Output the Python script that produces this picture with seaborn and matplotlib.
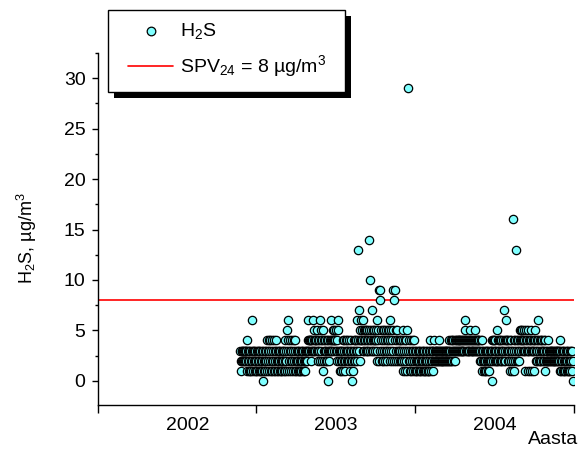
import matplotlib
matplotlib.use("Agg")
import matplotlib.pyplot as plt
import matplotlib.dates as mdates
from matplotlib.patches import Rectangle
from matplotlib.lines import Line2D
from matplotlib.ticker import FixedLocator, NullFormatter, FixedFormatter, MultipleLocator
import pandas as pd
import seaborn as sns

# Daily H2S concentrations (µg/m3)
start_date = "2002-11-25"

h2s_2002 = [
    3, 2, 1, 3, 2, 3,                                                     # Nov
    3, 2, 3, 2, 3, 2, 3, 3, 2, 4, 1, 3, 2, 1, 3, 2, 1, 3, 2, 1, 3, 6, 2, 1, 3, 2, 3, 1, 2, 3, 1,  # Dec
]

h2s_2003 = [
    2, 3, 1, 2, 3, 1, 2, 3, 1, 3, 2, 1, 3, 2, 1, 3, 0, 2, 1, 3, 2, 1, 3, 2, 1, 4, 3, 2, 4, 1, 3,  # Jan
    4, 2, 1, 3, 2, 4, 1, 3, 2, 1, 4, 3, 2, 1, 3, 4, 2, 1, 3, 2, 1, 3, 2, 1, 3, 2, 1, 3,  # Feb
    2, 1, 3, 2, 1, 3, 2, 4, 1, 3, 2, 5, 1, 6, 3, 4, 2, 1, 3, 4, 2, 1, 3, 4, 2, 1, 3, 4, 2, 1, 3,  # Mar
    4, 2, 1, 3, 2, 1, 3, 2, 1, 3, 2, 1, 3, 2, 1, 3, 2, 1, 3, 2, 1, 3, 2, 1, 3, 2, 3, 2, 6, 4,  # Apr
    3, 4, 3, 4, 4, 3, 2, 4, 3, 4, 6, 3, 5, 4, 3, 4, 3, 4, 4, 5, 3, 4, 3, 2, 4, 3, 6, 2, 5, 4, 3,  # May
    4, 2, 5, 1, 3, 4, 2, 3, 4, 2, 3, 4, 2, 0, 3, 4, 2, 3, 3, 4, 6, 3, 4, 3, 4, 5, 4, 3, 5, 4,  # Jun
    4, 4, 5, 3, 2, 4, 3, 6, 5, 2, 3, 3, 1, 2, 3, 1, 2, 3, 4, 1, 2, 3, 4, 1, 2, 3, 4, 2, 3, 4, 2,  # Jul
    3, 2, 4, 3, 1, 2, 4, 3, 2, 0, 3, 1, 4, 2, 3, 4, 2, 3, 4, 2, 3, 6, 4, 13, 7, 3, 2, 4, 5, 6, 4,  # Aug
    5, 4, 6, 3, 5, 4, 3, 5, 4, 3, 5, 4, 3, 5, 4, 3, 14, 5, 10, 4, 3, 5, 4, 7, 3, 5, 4, 3, 5, 4,  # Sep
    4, 3, 5, 4, 2, 6, 3, 5, 4, 9, 2, 8, 3, 9, 5, 4, 2, 3, 5, 4, 2, 3, 5, 4, 2, 3, 5, 4, 2, 3, 5,  # Oct
    4, 5, 3, 2, 6, 4, 5, 3, 2, 4, 5, 9, 3, 8, 2, 9, 4, 5, 3, 2, 5, 4, 3, 2, 4, 3, 2, 4, 3, 2,  # Nov
    4, 3, 2, 4, 5, 1, 3, 2, 4, 1, 3, 2, 4, 5, 1, 3, 29, 2, 4, 1, 3, 2, 4, 1, 3, 2, 4, 1, 3, 2, 4,  # Dec
]

h2s_2004 = [
    1, 3, 2, 1, 3, 2, 1, 3, 2, 1, 3, 2, 1, 3, 2, 1, 3, 2, 1, 3, 2, 1, 3, 2, 1, 3, 2, 1, 3, 2, 1,  # Jan
    1, 3, 2, 1, 4, 3, 2, 1, 3, 2, 3, 1, 3, 2, 4, 3, 2, 3, 2, 3, 2, 3, 2, 3, 2, 4, 3, 2, 3,  # Feb
    2, 3, 2, 3, 2, 3, 2, 3, 2, 3, 2, 3, 2, 3, 2, 3, 2, 3, 2, 3, 4, 2, 3, 4, 2, 3, 4, 2, 3, 4, 2,  # Mar
    3, 4, 2, 3, 4, 3, 4, 3, 4, 3, 4, 3, 4, 3, 4, 3, 4, 3, 4, 3, 4, 3, 4, 3, 6, 5, 4, 3, 4, 3,  # Apr
    4, 3, 4, 3, 4, 3, 4, 5, 3, 4, 3, 4, 3, 4, 3, 4, 3, 4, 5, 3, 4, 3, 4, 3, 4, 3, 4, 3, 4, 2, 3,  # May
    4, 2, 3, 1, 4, 2, 3, 1, 2, 3, 1, 2, 3, 1, 2, 3, 1, 2, 3, 1, 2, 3, 2, 3, 2, 4, 3, 0, 2, 4,  # Jun
    3, 4, 2, 3, 4, 2, 3, 5, 2, 4, 3, 2, 4, 3, 2, 4, 3, 2, 4, 3, 2, 4, 3, 7, 2, 4, 3, 2, 6, 4, 3,  # Jul
    4, 3, 2, 4, 3, 2, 4, 1, 3, 2, 4, 1, 3, 2, 16, 4, 1, 3, 2, 4, 3, 13, 2, 4, 3, 2, 4, 3, 2, 4, 5,  # Aug
    4, 5, 3, 4, 5, 3, 4, 3, 5, 4, 3, 1, 4, 5, 3, 4, 1, 3, 5, 4, 3, 1, 4, 3, 5, 4, 3, 1, 4, 3,  # Sep
    4, 3, 1, 4, 5, 2, 3, 4, 2, 3, 4, 6, 2, 3, 4, 2, 3, 4, 2, 3, 4, 2, 3, 4, 2, 3, 4, 1, 2, 3, 2,  # Oct
    3, 2, 4, 2, 3, 2, 3, 2, 3, 2, 3, 2, 3, 2, 3, 2, 3, 2, 3, 2, 3, 2, 3, 2, 3, 2, 3, 2, 3, 4,  # Nov
    1, 3, 2, 1, 3, 2, 1, 3, 2, 1, 3, 2, 1, 3, 2, 1, 3, 2, 1, 3, 2, 1, 3, 2, 1, 3, 2, 1, 3, 2, 0,  # Dec
]

limit_value = 8  # SPV24 daily limit, µg/m3

year_ticks = ["2002-01-01", "2003-01-01", "2004-01-01", "2005-01-01"]
year_labels = ["2002", "2003", "2004"]
year_label_dates = ["2002-07-26", "2003-07-04", "2004-07-03"]

values = h2s_2002 + h2s_2003 + h2s_2004
df = pd.DataFrame({
    "date": pd.date_range(start_date, periods=len(values), freq="D"),
    "h2s": values,
})

sns.set_theme(style="ticks")
plt.rcParams["font.family"] = ["Liberation Sans", "DejaVu Sans"]
plt.rcParams["mathtext.fontset"] = "custom"
plt.rcParams["mathtext.rm"] = "Liberation Sans"
plt.rcParams["mathtext.default"] = "regular"

W, H = 582, 450
FS = 14
fig = plt.figure(figsize=(W / 100, H / 100), dpi=100)
fig.patch.set_facecolor("white")
ax = fig.add_axes([98 / W, 45 / H, 475.5 / W, 352 / H])
ax.set_facecolor("white")

point_face = "#80FFFF"

ax.axhline(limit_value, color="red", lw=1.2, zorder=2)
sns.scatterplot(data=df, x="date", y="h2s", ax=ax, s=36, color=point_face,
                edgecolor="black", linewidth=0.9, zorder=3, legend=False)

ax.set_xlim(pd.Timestamp(year_ticks[0]), pd.Timestamp(year_ticks[-1]))
ax.set_ylim(-2.4, 32.5)

for side in ("top", "right"):
    ax.spines[side].set_visible(False)
for side in ("left", "bottom"):
    ax.spines[side].set_color("black")
    ax.spines[side].set_linewidth(1.0)

# y axis: major every 5, minor every 2.5
ax.yaxis.set_major_locator(MultipleLocator(5))
ax.yaxis.set_minor_locator(MultipleLocator(2.5))
ax.tick_params(axis="y", which="major", direction="out", length=4.5, width=1,
               color="black", labelsize=FS, labelcolor="black", pad=4.5)
ax.tick_params(axis="y", which="minor", direction="out", length=2.3, width=1,
               color="black")

# x axis: ticks at year boundaries, labels centred within the years
ax.xaxis.set_major_locator(FixedLocator(mdates.date2num(pd.to_datetime(year_ticks))))
ax.xaxis.set_major_formatter(NullFormatter())
ax.xaxis.set_minor_locator(FixedLocator(mdates.date2num(pd.to_datetime(year_label_dates))))
ax.xaxis.set_minor_formatter(FixedFormatter(year_labels))
ax.tick_params(axis="x", which="major", direction="out", length=5.5, width=1,
               color="black")
ax.tick_params(axis="x", which="minor", length=0, labelsize=FS,
               labelcolor="black", pad=8.5)

ax.set_xlabel("")
ax.set_ylabel("")
fig.text(27 / W, 1 - 238 / H, "H$_2$S, µg/m$^3$", rotation=90,
         ha="center", va="center", fontsize=13, color="black")
fig.text(578 / W, 1 - 440 / H, "Aasta", ha="right", va="center",
         fontsize=FS, color="black")

# Legend box with solid drop shadow
bx, by, bw, bh = 108, 10, 237, 82
fig.add_artist(Rectangle(((bx + 6) / W, 1 - (by + bh + 6) / H), bw / W, bh / H,
                         transform=fig.transFigure, facecolor="black",
                         edgecolor="none", zorder=5))
fig.add_artist(Rectangle((bx / W, 1 - (by + bh) / H), bw / W, bh / H,
                         transform=fig.transFigure, facecolor="white",
                         edgecolor="black", linewidth=1.0, zorder=6))
fig.add_artist(Line2D([151 / W], [1 - 31 / H], marker="o", markersize=6.2,
                      markerfacecolor=point_face, markeredgecolor="black",
                      markeredgewidth=0.9, linestyle="none",
                      transform=fig.transFigure, zorder=7))
fig.text(180 / W, 1 - 31 / H, "H$_2$S", ha="left", va="center",
         fontsize=FS, color="black", zorder=7)
fig.add_artist(Line2D([128 / W, 173 / W], [1 - 66 / H, 1 - 66 / H],
                      color="red", lw=1.2, transform=fig.transFigure, zorder=7))
fig.text(180 / W, 1 - 66 / H, f"SPV$_{{24}}$ = {limit_value} µg/m$^3$",
         ha="left", va="center", fontsize=FS, color="black", zorder=7)

fig.savefig("out.png", dpi=100, facecolor="white")
